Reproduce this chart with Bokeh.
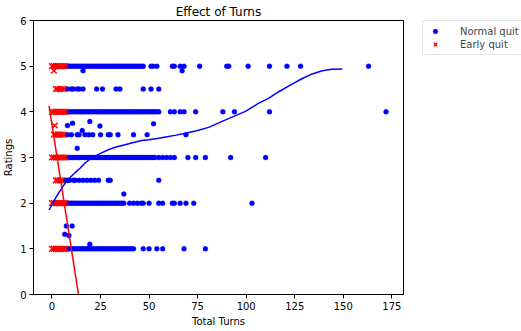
from bokeh.plotting import figure
from bokeh.models import ColumnDataSource, Range1d, FixedTicker, Legend, LegendItem
from bokeh.embed import file_html
from bokeh.resources import INLINE

# ---- data ----
# Normal quit (blue dots): turns per rating level
normal_r5 = [7, 8, 9, 10, 11, 12, 13, 14, 15, 16, 17, 18, 19, 20, 21, 22, 23, 24, 25, 26, 27, 28, 29, 30,
             31, 32, 33, 34, 35, 36, 37, 38, 39, 40, 41, 42, 43, 44, 45, 46, 47,
             51, 52, 54, 62, 63, 66, 68, 76, 90, 91, 101, 112, 121, 128, 163]
normal_r49 = [16, 67]
normal_r45 = [8, 10, 11, 13, 14, 16, 23, 26, 33, 35, 47, 51, 55]
normal_r4 = [7, 8, 9, 10, 11, 12, 13, 14, 15, 16, 17, 18, 19, 20, 21, 22, 23, 24, 25, 26, 27, 28, 29, 30,
             31, 32, 33, 34, 35, 36, 37, 38, 39, 40, 41, 42, 43, 44, 45, 46, 47, 48, 49, 50, 51, 52,
             53, 54, 55, 61, 63, 66, 68, 74, 88, 94, 112, 172]
odd_turns = [8, 10.6, 19.5, 24.7, 52.3, 15.6, 13, 37, 7.4, 10.4, 6.6, 8.7, 19.5]
odd_ratings = [3.7, 3.75, 3.79, 3.69, 3.74, 3.59, 3.2, 2.2, 1.5, 1.5, 1.32, 1.29, 1.1]
normal_r35 = [8, 10, 13, 14, 17, 19, 21, 25, 29, 30, 34, 42, 49, 69]
normal_r3 = [7, 8, 9, 10, 11, 12, 13, 14, 15, 16, 17, 18, 19, 20, 21, 22, 23, 24, 25, 26, 27, 28, 29, 30,
             31, 32, 33, 34, 35, 36, 37, 38, 39, 40, 41, 42, 43, 44, 45, 46, 47, 48, 49, 50, 51, 52,
             53, 55, 57, 59, 61, 63, 70, 74, 79, 92, 110]
normal_r25 = [7, 8, 9, 11, 12, 14, 16, 18, 20, 22, 24, 29, 30, 55]
normal_r2 = [7, 8, 9, 10, 11, 12, 13, 14, 15, 16, 17, 18, 19, 20, 21, 22, 23, 24, 25, 26, 27, 28, 29, 30,
             31, 32, 33, 34, 35, 36, 37, 40, 42, 44, 46, 47, 50, 55, 57, 62, 63, 66, 69, 73, 103]
normal_r1 = [7, 8, 9, 10, 11, 12, 13, 14, 15, 16, 17, 18, 19, 20, 21, 22, 23, 24, 25, 26, 27, 28, 29, 30,
             31, 32, 33, 34, 35, 36, 37, 38, 39, 40, 41, 42, 47, 50, 54, 57, 68, 79]

# Early quit (red x): turns per rating level
early_r5 = [0, 1, 2, 3, 4, 5, 6, 7]
early_r49 = [1]
early_r45 = [2, 3, 4, 5, 6]
early_r4 = [0, 1, 2, 3, 4, 5, 6, 7]
early_r37 = [1.5]
early_r35 = [1, 2, 3, 4, 5, 6]
early_r3 = [0, 1, 2, 3, 4, 5, 6, 7]
early_r25 = [2, 3, 4, 5]
early_r2 = [0, 1, 2, 3, 4, 5, 6, 7]
early_r1 = [0, 1, 2, 3, 4, 5, 6, 7]

# fitted curves
fit_normal_x = [-1.5, 0, 2, 4, 6, 8, 10, 12, 14.6, 17, 20.4, 25, 29, 33, 37.6, 42, 46.2, 50, 54.9, 60,
                64, 68.6, 74, 80.7, 87.6, 93, 99.6, 106.5, 111.7, 116.8, 122, 128.9, 134, 139.2, 144, 149.5]
fit_normal_y = [1.85, 1.97, 2.12, 2.26, 2.39, 2.50, 2.59, 2.67, 2.77, 2.88, 2.99, 3.09, 3.17, 3.23, 3.28,
                3.33, 3.37, 3.39, 3.42, 3.46, 3.49, 3.53, 3.58, 3.66, 3.79, 3.89, 4.01, 4.19, 4.30, 4.44,
                4.57, 4.73, 4.83, 4.90, 4.93, 4.94]
fit_early_x = [-1.5, 15.5]
fit_early_y = [4.13, -0.5]

x_ticks = [0, 25, 50, 75, 100, 125, 150, 175]
y_ticks = [0, 1, 2, 3, 4, 5, 6]

# ---- assemble ----
def rows(pairs):
    xs, ys = [], []
    for r, lst in pairs:
        xs += lst
        ys += [r] * len(lst)
    return xs, ys

nx, ny = rows([(5, normal_r5), (4.9, normal_r49), (4.5, normal_r45), (4, normal_r4), (3.5, normal_r35),
               (3, normal_r3), (2.5, normal_r25), (2, normal_r2), (1, normal_r1)])
nx += odd_turns
ny += odd_ratings
ex, ey = rows([(5, early_r5), (4.9, early_r49), (4.5, early_r45), (4, early_r4), (3.7, early_r37),
               (3.5, early_r35), (3, early_r3), (2.5, early_r25), (2, early_r2), (1, early_r1)])

FONT = "DejaVu Sans"
BLUE = "#0000ff"
RED = "#ff0000"

p = figure(frame_width=370, frame_height=274, x_range=Range1d(-9.5, 181), y_range=Range1d(0, 6),
           output_backend="svg", toolbar_location=None,
           min_border_left=33, min_border_right=0, min_border_top=14, min_border_bottom=0,
           title="Effect of Turns")
p.title.align = "center"
p.title.text_font = FONT
p.title.text_font_size = "12px"
p.title.text_font_style = "normal"
p.title.text_color = "black"
p.title.standoff = 4

p.xgrid.visible = False
p.ygrid.visible = False
p.outline_line_color = "black"
p.outline_line_width = 1
p.outline_line_alpha = 1
p.background_fill_color = "white"
p.border_fill_color = "white"

for ax in (p.xaxis[0], p.yaxis[0]):
    ax.axis_line_color = "black"
    ax.major_tick_line_color = "black"
    ax.major_tick_out = 4
    ax.major_tick_in = 0
    ax.minor_tick_line_color = None
    ax.major_label_text_font = FONT
    ax.major_label_text_font_size = "10px"
    ax.major_label_text_color = "black"
    ax.axis_label_text_font = FONT
    ax.axis_label_text_font_size = "10px"
    ax.axis_label_text_font_style = "normal"
    ax.axis_label_text_color = "black"
    ax.major_label_standoff = 3
    ax.axis_label_standoff = 3

p.xaxis.ticker = FixedTicker(ticks=x_ticks)
p.yaxis.ticker = FixedTicker(ticks=y_ticks)
p.xaxis.axis_label = "Total Turns"
p.yaxis.axis_label = "Ratings"

ns = ColumnDataSource(dict(x=nx, y=ny))
es = ColumnDataSource(dict(x=ex, y=ey))
r_n = p.scatter("x", "y", source=ns, marker="circle", size=5, fill_color=BLUE, line_color=BLUE, line_width=0.3)
r_e = p.scatter("x", "y", source=es, marker="x", size=8, line_color=RED, line_width=1.4)
p.line(fit_normal_x, fit_normal_y, line_color=BLUE, line_width=1.5)
p.line(fit_early_x, fit_early_y, line_color=RED, line_width=1.5)

legend = Legend(items=[LegendItem(label="Normal quit", renderers=[r_n]),
                       LegendItem(label="Early quit", renderers=[r_e])],
                location=(19, 239))
legend.label_text_font = FONT
legend.label_text_font_size = "10px"
legend.glyph_width = 16
legend.glyph_height = 12
legend.label_height = 12
legend.spacing = 1
legend.padding = 4
legend.margin = 0
legend.label_standoff = 17
legend.border_line_color = "#cccccc"
legend.border_line_width = 1
legend.background_fill_alpha = 1
p.add_layout(legend, "right")

open("out.html", "w").write(file_html(p, INLINE))
